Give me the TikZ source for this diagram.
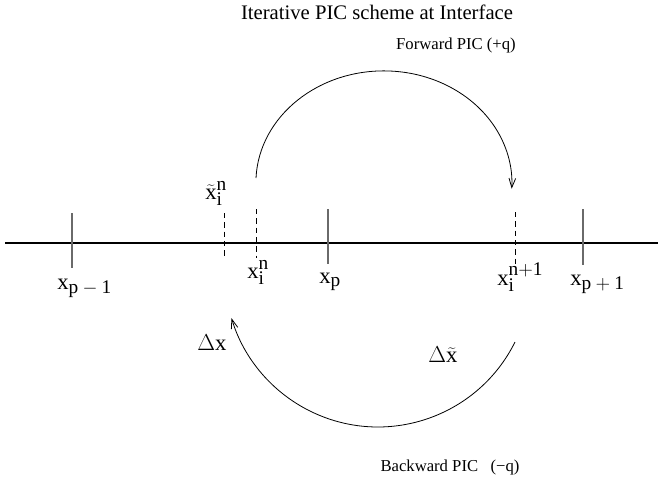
\documentclass[tikz,border=0pt]{standalone}
\usepackage{fontspec}
\setmainfont{Liberation Serif}
\usetikzlibrary{arrows.meta}
\definecolor{tickgray}{HTML}{6A6A6A}
\DeclareMathSizes{17}{17}{14.5}{10}

\tikzset{
  gridtick/.style={draw=tickgray, line width=1pt},
  partdash/.style={draw=black, line width=0.6pt, dash pattern=on 4pt off 3pt},
  picarrow/.style={line width=0.6pt, -{Straight Barb[length=7pt, width=5pt]}},
  axlabel/.style={font=\fontsize{17}{20}\selectfont, inner sep=0pt, anchor=base west}
}

\begin{document}
\begin{tikzpicture}[x=0.75pt, y=0.75pt]
  \useasboundingbox (0,0) rectangle (658,487);

  % titles
  \node[font=\fontsize{15.5}{18}\selectfont] (title) at (377,475) {Iterative PIC scheme at Interface};
  \node[font=\fontsize{12.5}{15}\selectfont] (fwd) at (456,442) {Forward PIC (+q)};
  \node[font=\fontsize{12.5}{15}\selectfont] (bwd) at (450,20) {Backward PIC \ \ (−q)};

  % axis and grid points
  \draw[line width=0.8pt] (5,244) -- (658,244);
  \draw[gridtick] (72,274) -- (72,219);
  \draw[gridtick] (328,278) -- (328,223);
  \draw[gridtick] (583,278) -- (583,222);

  % particle positions
  \draw[partdash] (224,274) -- (224,230);
  \draw[partdash] (256,278) -- (256,229);
  \draw[partdash] (515,275) -- (515,222);

  \node[axlabel] (xpm) at (57,198) {$\mathrm{x}_{\mathrm{p}\:-\:\mathrm{1}}$};
  \node[axlabel] (xin) at (247,209) {$\mathrm{x}_{\mathrm{i}}^{\mathrm{n}}$};
  \node[axlabel] (xp) at (319,204) {$\mathrm{x}_{\mathrm{p}}$};
  \node[axlabel] (xinn) at (497,202) {$\mathrm{x}_{\mathrm{i}}^{\mathrm{n+1}}$};
  \node[axlabel] (xpp) at (570,202) {$\mathrm{x}_{\mathrm{p}\:+\:\mathrm{1}}$};
  \node[axlabel] (xtil) at (205,288) {$\widetilde{\mathrm{x}}_{\mathrm{i}}^{\mathrm{n}}$};

  % forward and backward steps
  \draw[picarrow] (256,309) arc[start angle=177.5, end angle=-3, x radius=128, y radius=112];
  \draw[picarrow] (515,145) arc[start angle=-26.4, end angle=-163.2, radius=153];
  \node[axlabel] (dx) at (197,137) {$\Delta\mathrm{x}$};
  \node[axlabel] (dxt) at (428,125) {$\Delta\widetilde{\mathrm{x}}$};
\end{tikzpicture}
\end{document}
